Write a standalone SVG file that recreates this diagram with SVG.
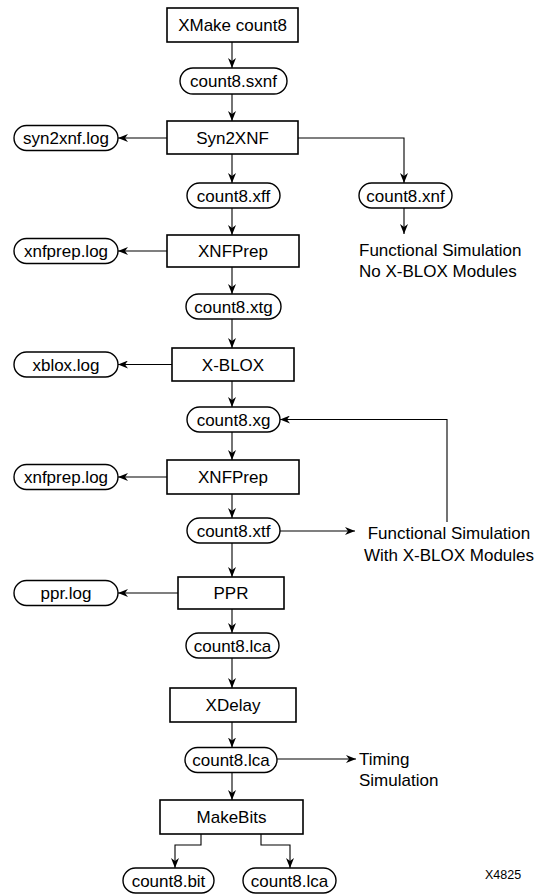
<svg xmlns="http://www.w3.org/2000/svg" width="537" height="894" viewBox="0 0 537 894">
<style>
  .box { fill: #fff; stroke: #000; stroke-width: 1.6; }
  .pill { fill: #fff; stroke: #000; stroke-width: 1.4; }
  .t { font-family: "Liberation Sans", Arial, sans-serif; font-size: 17px; fill: #000; text-anchor: middle; }
  .tl { font-family: "Liberation Sans", Arial, sans-serif; font-size: 17px; fill: #000; }
  .c { fill: none; stroke: #000; stroke-width: 1.1; marker-end: url(#ah); }
  .cn { fill: none; stroke: #000; stroke-width: 1.1; }
</style>
<defs>
  <marker id="ah" viewBox="0 0 10 8" refX="10" refY="4" markerWidth="10" markerHeight="8" markerUnits="userSpaceOnUse" orient="auto">
    <path d="M0,0 L10,4 L0,8 L3,4 z" fill="#000"/>
  </marker>
</defs>

<g id="connectors">
  <line class="c" x1="232" y1="42" x2="232" y2="68"/>
  <line class="c" x1="232" y1="94" x2="232" y2="121"/>
  <line class="c" x1="167" y1="138" x2="118" y2="138"/>
  <polyline class="c" points="298,138 404,138 404,183"/>
  <line class="c" x1="404" y1="208" x2="404" y2="234"/>
  <line class="c" x1="232" y1="154" x2="232" y2="183"/>
  <line class="c" x1="232" y1="208" x2="232" y2="235"/>
  <line class="c" x1="167" y1="251" x2="118" y2="251"/>
  <line class="c" x1="232" y1="267" x2="232" y2="294"/>
  <line class="c" x1="232" y1="319" x2="232" y2="348"/>
  <line class="c" x1="172" y1="364.5" x2="118" y2="364.5"/>
  <line class="c" x1="232" y1="381" x2="232" y2="407"/>
  <polyline class="c" points="447,522 447,419.5 280,419.5"/>
  <line class="c" x1="232" y1="432" x2="232" y2="460"/>
  <line class="c" x1="167" y1="477" x2="118" y2="477"/>
  <line class="c" x1="232" y1="494" x2="232" y2="518"/>
  <line class="c" x1="280" y1="531" x2="355" y2="531"/>
  <line class="c" x1="232" y1="543" x2="232" y2="577"/>
  <line class="c" x1="178" y1="593" x2="118" y2="593"/>
  <line class="c" x1="232" y1="609" x2="232" y2="633"/>
  <line class="c" x1="232" y1="658" x2="232" y2="688"/>
  <line class="c" x1="232" y1="722" x2="232" y2="747.5"/>
  <line class="c" x1="277" y1="759" x2="356" y2="759"/>
  <line class="c" x1="232" y1="772.5" x2="232" y2="800"/>
  <polyline class="c" points="201,834 201,845 175,845 175,868"/>
  <polyline class="c" points="261,834 261,845 290,845 290,868"/>
</g>

<g id="xmake"><rect class="box" x="167" y="8" width="131" height="34"/><text class="t" x="232.5" y="31">XMake count8</text></g>
<g id="sxnf"><rect class="pill" x="180" y="68" width="107" height="26" rx="13"/><text class="t" x="233.5" y="87">count8.sxnf</text></g>
<g id="syn2xnf"><rect class="box" x="167" y="121" width="131" height="33"/><text class="t" x="232.5" y="144">Syn2XNF</text></g>
<g id="syn2xnflog"><rect class="pill" x="14" y="125.5" width="104" height="25" rx="12.5"/><text class="t" x="66" y="144">syn2xnf.log</text></g>
<g id="xff"><rect class="pill" x="187" y="183" width="93" height="25" rx="12.5"/><text class="t" x="233.5" y="201.5">count8.xff</text></g>
<g id="xnf"><rect class="pill" x="359" y="183" width="93" height="25" rx="12.5"/><text class="t" x="405.5" y="201.5">count8.xnf</text></g>
<g id="fsim1"><text class="tl" x="359" y="256">Functional Simulation</text><text class="tl" x="359" y="277">No X-BLOX Modules</text></g>
<g id="xnfprep1"><rect class="box" x="167" y="235" width="132" height="32"/><text class="t" x="233" y="257">XNFPrep</text></g>
<g id="xnfpreplog1"><rect class="pill" x="14" y="238.5" width="104" height="25" rx="12.5"/><text class="t" x="66" y="257">xnfprep.log</text></g>
<g id="xtg"><rect class="pill" x="186" y="294" width="95" height="25" rx="12.5"/><text class="t" x="233.5" y="312.5">count8.xtg</text></g>
<g id="xblox"><rect class="box" x="172" y="348" width="122" height="33"/><text class="t" x="233" y="370.5">X-BLOX</text></g>
<g id="xbloxlog"><rect class="pill" x="14" y="352" width="104" height="25" rx="12.5"/><text class="t" x="66" y="370.5">xblox.log</text></g>
<g id="xg"><rect class="pill" x="187" y="407" width="93" height="25" rx="12.5"/><text class="t" x="233.5" y="425.5">count8.xg</text></g>
<g id="xnfprep2"><rect class="box" x="167" y="460" width="132" height="34"/><text class="t" x="233" y="483">XNFPrep</text></g>
<g id="xnfpreplog2"><rect class="pill" x="14" y="464.5" width="104" height="25" rx="12.5"/><text class="t" x="66" y="483">xnfprep.log</text></g>
<g id="xtf"><rect class="pill" x="187" y="518" width="93" height="25" rx="12.5"/><text class="t" x="233.5" y="536.5">count8.xtf</text></g>
<g id="fsim2"><text class="t" x="449" y="539">Functional Simulation</text><text class="t" x="449" y="561">With X-BLOX Modules</text></g>
<g id="ppr"><rect class="box" x="178" y="577" width="106" height="32"/><text class="t" x="231" y="599">PPR</text></g>
<g id="pprlog"><rect class="pill" x="14" y="580.5" width="104" height="25" rx="12.5"/><text class="t" x="66" y="599">ppr.log</text></g>
<g id="lca1"><rect class="pill" x="186" y="633" width="93" height="25" rx="12.5"/><text class="t" x="232.5" y="651.5">count8.lca</text></g>
<g id="xdelay"><rect class="box" x="170" y="688" width="126" height="34"/><text class="t" x="233" y="711">XDelay</text></g>
<g id="lca2"><rect class="pill" x="185" y="747.5" width="92" height="25" rx="12.5"/><text class="t" x="231" y="766">count8.lca</text></g>
<g id="timing"><text class="tl" x="359" y="765">Timing</text><text class="tl" x="359" y="786">Simulation</text></g>
<g id="makebits"><rect class="box" x="160" y="800" width="143" height="34"/><text class="t" x="231.5" y="823">MakeBits</text></g>
<g id="bit"><rect class="pill" x="123" y="868" width="91" height="25" rx="12.5"/><text class="t" x="168.5" y="886.5">count8.bit</text></g>
<g id="lca3"><rect class="pill" x="243" y="868" width="93" height="25" rx="12.5"/><text class="t" x="289.5" y="886.5">count8.lca</text></g>
<g id="figid"><text class="tl" x="485" y="879" style="font-size:12.5px">X4825</text></g>
</svg>
